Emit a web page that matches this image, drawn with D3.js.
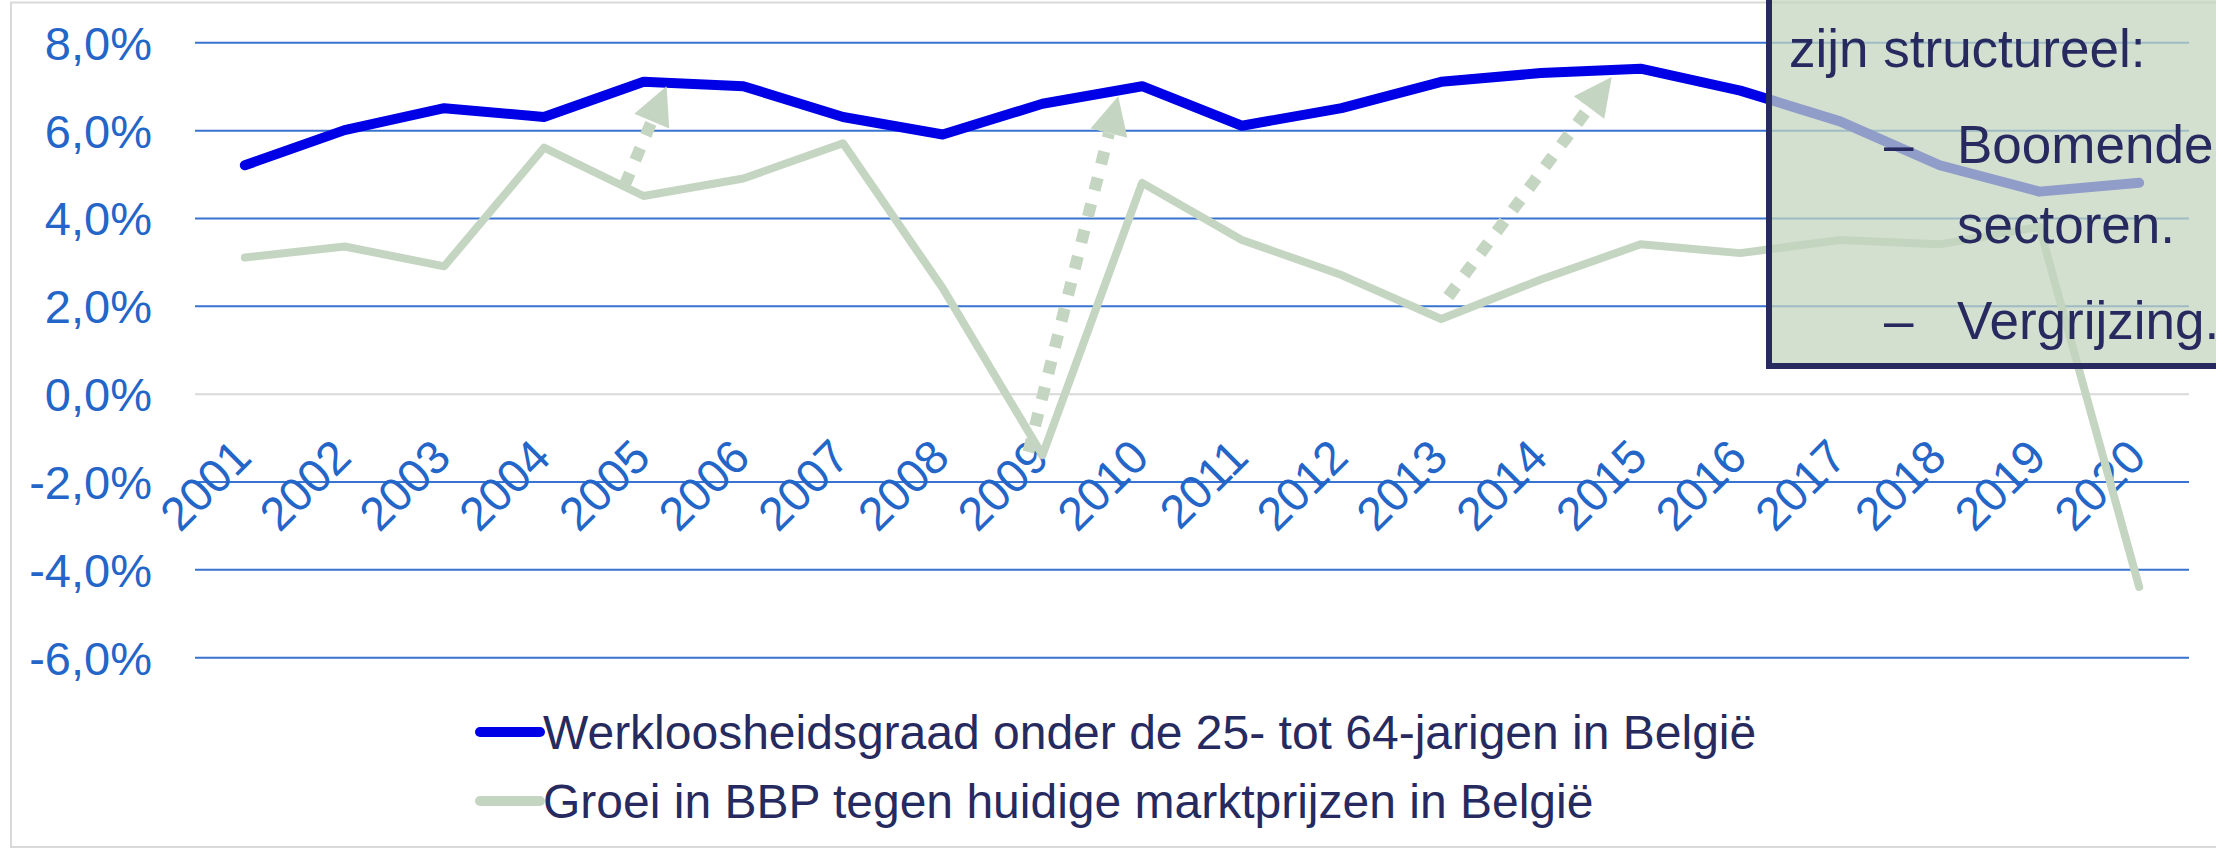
<!DOCTYPE html>
<html lang="nl">
<head>
	<meta charset="UTF-8">
	<title>Werkloosheid en groei BBP</title>
	<style>
		body { margin: 0; background: #ffffff; }
		text { font-family: "Liberation Sans", Arial, sans-serif; }
	</style>
</head>
<body>

	<script src="https://d3js.org/d3.v7.min.js" charset="utf-8"></script>

	<script type="text/javascript">

		var chartWidth = 2216,
			chartHeight = 850;

		// data
		var years = [ "2001", "2002", "2003", "2004", "2005", "2006", "2007", "2008", "2009", "2010",
					  "2011", "2012", "2013", "2014", "2015", "2016", "2017", "2018", "2019", "2020" ];
		var unemployment = [ 5.2, 6.0, 6.5, 6.3, 7.1, 7.0, 6.3, 5.9, 6.6, 7.0,
							 6.1, 6.5, 7.1, 7.3, 7.4, 6.9, 6.2, 5.2, 4.6, 4.8 ];
		var gdpGrowth = [ 3.1, 3.35, 2.9, 5.6, 4.5, 4.9, 5.7, 2.4, -1.4, 4.8,
						  3.5, 2.7, 1.7, 2.6, 3.4, 3.2, 3.5, 3.4, 3.8, -4.4 ];
		var yTicks = [ -6, -4, -2, 0, 2, 4, 6, 8 ];
		var seriesNames = [ "Werkloosheidsgraad onder de 25- tot 64-jarigen in België",
							"Groei in BBP tegen huidige marktprijzen in België" ];
		var boxLines = [ "zijn structureel:", "Boomende", "sectoren.", "Vergrijzing." ];

		// dotted arrows: [category index, value] start and end
		var arrowFrom = [ [ 3.81, 4.75 ], [ 7.86, -1.33 ], [ 12.07, 2.21 ] ],
			arrowTo   = [ [ 4.23, 7.0 ],  [ 8.76, 6.77 ],  [ 13.71, 7.21 ] ];

		var blueColor = "#0000e6",
			greenColor = "#c4d6c1",
			axisTextColor = "#2465c8",
			gridColor = "#3873d0",
			navy = "#262a5f";

		var svg = d3.select( "body" )
					.append( "svg" )
					.attr( "width", chartWidth )
					.attr( "height", chartHeight );

		var x = d3.scaleBand()
					.domain( years )
					.range( [ 195, 2189 ] );

		var y = d3.scaleLinear()
					.domain( [ -6, 8 ] )
					.range( [ 657.2, 42.3 ] );

		function xAt( index ) {
			return x( years[ 0 ] ) + ( index + 0.5 ) * x.step();
		}

		// chart area border
		svg.append( "rect" )
			.attr( "x", 11 )
			.attr( "y", 2.5 )
			.attr( "width", chartWidth )
			.attr( "height", 844.5 )
			.attr( "fill", "none" )
			.attr( "stroke", "#d9d9d9" )
			.attr( "stroke-width", 2 );

		// gridlines + y labels
		var yAxis = d3.axisLeft( y )
					.tickValues( yTicks )
					.tickSize( -( x.range()[1] - x.range()[0] ) )
					.tickPadding( 43 )
					.tickFormat( function(d) {
						return d.toFixed( 1 ).replace( ".", "," ) + "%";
					} );

		var yG = svg.append( "g" )
					.attr( "transform", "translate(" + x.range()[0] + ",0)" )
					.call( yAxis );

		yG.select( ".domain" ).remove();
		yG.selectAll( ".tick line" )
			.attr( "stroke", function(d) { return d === 0 ? "#d9d9d9" : gridColor; } )
			.attr( "stroke-width", 2 );
		yG.selectAll( ".tick text" )
			.attr( "fill", axisTextColor )
			.style( "font-size", "47px" )
			.attr( "dy", "0.36em" );

		// year labels, rotated
		svg.append( "g" )
			.selectAll( "text" )
			.data( years )
			.enter()
			.append( "text" )
			.attr( "transform", function(d) {
				return "translate(" + ( x( d ) + x.bandwidth() / 2 + 9 ) + "," + ( y( 0 ) + 66 ) + ") rotate(-45)";
			} )
			.attr( "text-anchor", "end" )
			.attr( "fill", axisTextColor )
			.style( "font-size", "47px" )
			.text( function(d) { return d; } );

		var line = d3.line()
					.x( function(d, i) { return x( years[ i ] ) + x.bandwidth() / 2; } )
					.y( function(d) { return y( d ); } );

		svg.append( "path" )
			.datum( gdpGrowth )
			.attr( "d", line )
			.attr( "fill", "none" )
			.attr( "stroke", greenColor )
			.attr( "stroke-width", 8 )
			.attr( "stroke-linejoin", "round" )
			.attr( "stroke-linecap", "round" );

		svg.append( "path" )
			.datum( unemployment )
			.attr( "d", line )
			.attr( "fill", "none" )
			.attr( "stroke", blueColor )
			.attr( "stroke-width", 10 )
			.attr( "stroke-linejoin", "round" )
			.attr( "stroke-linecap", "round" );

		// arrows
		var headLength = 38,
			headWidth = 38;

		arrowFrom.forEach( function( from, i ) {
			var x0 = xAt( from[0] ), y0 = y( from[1] ),
				x1 = xAt( arrowTo[i][0] ), y1 = y( arrowTo[i][1] );
			var len = Math.sqrt( ( x1 - x0 ) * ( x1 - x0 ) + ( y1 - y0 ) * ( y1 - y0 ) ),
				ux = ( x1 - x0 ) / len, uy = ( y1 - y0 ) / len;
			var bx = x1 - ux * headLength, by = y1 - uy * headLength;

			svg.append( "line" )
				.attr( "x1", x0 ).attr( "y1", y0 )
				.attr( "x2", bx ).attr( "y2", by )
				.attr( "stroke", greenColor )
				.attr( "stroke-width", 12 )
				.attr( "stroke-dasharray", "13,14" );

			svg.append( "polygon" )
				.attr( "points", [
					[ x1, y1 ],
					[ bx - uy * headWidth / 2, by + ux * headWidth / 2 ],
					[ bx + uy * headWidth / 2, by - ux * headWidth / 2 ]
				].join( " " ) )
				.attr( "fill", greenColor );
		} );

		// text box top right
		svg.append( "rect" )
			.attr( "x", 1769 )
			.attr( "y", -20 )
			.attr( "width", 600 )
			.attr( "height", 386 )
			.attr( "fill", "rgba(196,212,190,0.74)" )
			.attr( "stroke", navy )
			.attr( "stroke-width", 6 );

		var boxX = [ 1789, 1957, 1957, 1957 ],
			boxY = [ 67, 163, 243, 339 ];

		svg.append( "g" )
			.selectAll( "text" )
			.data( boxLines )
			.enter()
			.append( "text" )
			.attr( "x", function(d, i) { return boxX[ i ]; } )
			.attr( "y", function(d, i) { return boxY[ i ]; } )
			.attr( "fill", navy )
			.style( "font-size", "53px" )
			.text( function(d) { return d; } );

		[ 1, 3 ].forEach( function( i ) {
			svg.append( "text" )
				.attr( "x", 1884 )
				.attr( "y", boxY[ i ] )
				.attr( "fill", navy )
				.style( "font-size", "53px" )
				.text( "\u2013" );
		} );

		// legend
		var legendColors = [ blueColor, greenColor ],
			legendY = [ 732, 801 ];

		var legend = svg.append( "g" )
					.selectAll( "g" )
					.data( seriesNames )
					.enter()
					.append( "g" )
					.attr( "transform", function(d, i) { return "translate(480," + legendY[ i ] + ")"; } );

		legend.append( "line" )
			.attr( "x1", 0 ).attr( "x2", 60 )
			.attr( "stroke", function(d, i) { return legendColors[ i ]; } )
			.attr( "stroke-width", 10 )
			.attr( "stroke-linecap", "round" );

		legend.append( "text" )
			.attr( "x", 63 )
			.attr( "dy", 17 )
			.attr( "fill", navy )
			.style( "font-size", "48px" )
			.text( function(d) { return d; } );

	</script>
</body>
</html>
